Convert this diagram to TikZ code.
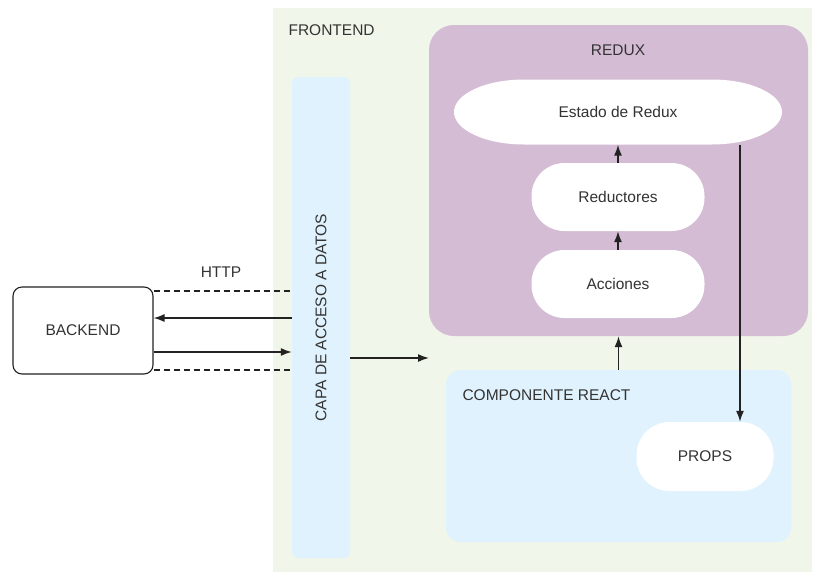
\documentclass[tikz,border=0pt]{standalone}
\usepackage{fontspec}
\setmainfont{Liberation Sans}
\usetikzlibrary{arrows.meta,calc}
\definecolor{fegreen}{HTML}{F0F6EA}
\definecolor{rxpurple}{HTML}{D3BCD4}
\definecolor{ltblue}{HTML}{E0F2FD}
\definecolor{txt}{HTML}{333333}
\definecolor{ln}{HTML}{222222}
\begin{document}
\begin{tikzpicture}[x=1pt,y=-1pt,
  every node/.style={font=\fontsize{15.5}{18}\selectfont, text=txt},
  pill/.style={draw=none, fill=white, rounded corners=33pt, minimum width=173pt, minimum height=68pt, inner sep=0pt},
  conn/.style={draw=ln, line width=1.5pt, -{Latex[length=11pt,width=8pt]}},
  dashline/.style={draw=ln, line width=1.3pt, dash pattern=on 6pt off 4pt}
]
\useasboundingbox (0,0) rectangle (815,574);
% frontend panel
\fill[fegreen] (273,8) rectangle (812,572);
\node[anchor=west] (felabel) at (285,30) {FRONTEND};
% data access layer
\node[fill=ltblue, rounded corners=6pt, minimum width=58pt, minimum height=481pt, inner sep=0pt] (capa) at (321,317.5) {};
\node[rotate=90] (capalabel) at (capa.center) {CAPA DE ACCESO A DATOS};
% redux panel
\node[fill=rxpurple, rounded corners=25pt, minimum width=379pt, minimum height=311pt, inner sep=0pt] (redux) at (618.5,180.5) {};
\node (reduxlabel) at (618,50) {REDUX};
% estado (elliptic-ended shape)
\fill[white] (524,79.5) -- (712,79.5)
  arc[start angle=90, end angle=-90, x radius=70pt, y radius=32.5pt]
  -- (524,144.5)
  arc[start angle=270, end angle=90, x radius=70pt, y radius=32.5pt] -- cycle;
\node[minimum width=328pt, minimum height=65pt, inner sep=0pt] (estado) at (618,112) {Estado de Redux};
\node[pill] (reductores) at (618,197) {Reductores};
\node[pill] (acciones) at (618,284) {Acciones};
% react component
\node[fill=ltblue, rounded corners=14pt, minimum width=345pt, minimum height=172pt, inner sep=0pt] (react) at (618.5,456) {};
\node[anchor=west] (reactlabel) at (459,395) {COMPONENTE REACT};
\node[pill, minimum width=137pt, minimum height=69pt, rounded corners=33pt] (props) at (705,456.5) {PROPS};
% backend
\node[draw=ln, line width=1.1pt, fill=white, rounded corners=9pt, minimum width=140pt, minimum height=87pt, inner sep=0pt] (backend) at (83,330.5) {BACKEND};
\node (http) at (221,272) {HTTP};
% connectors
\draw[dashline] (backend.east |- 0,291) -- (capa.west |- 0,291);
\draw[dashline] (backend.east |- 0,370) -- (capa.west |- 0,370);
\draw[conn] (capa.west |- 0,318) -- (backend.east |- 0,318);
\draw[conn] (backend.east |- 0,352) -- (capa.west |- 0,352);
\coordinate (mid) at (429,358);
\draw[conn] (capa.east |- mid) -- (mid);
\draw[conn] (acciones.north) -- (reductores.south);
\draw[conn] (reductores.north) -- (estado.south);
\draw[conn] (react.north) -- (redux.south);
\draw[conn] (estado.south -| 740,0) -- (props.north -| 740,0);
\end{tikzpicture}
\end{document}
